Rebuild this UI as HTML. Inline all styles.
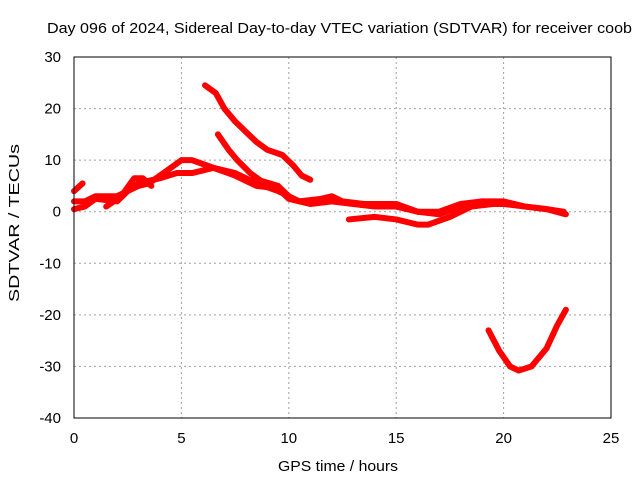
<!DOCTYPE html>
<html><head><meta charset="utf-8"><style>
body{margin:0;background:#fff}
svg text{font-family:"Liberation Sans",sans-serif;font-size:15px;fill:#000}
</style></head><body>
<svg id="chart" width="640" height="480">
<text x="47" y="33" textLength="585" lengthAdjust="spacingAndGlyphs">Day 096 of 2024, Sidereal Day-to-day VTEC variation (SDTVAR) for receiver coob</text>
<text x="278" y="471" textLength="120" lengthAdjust="spacingAndGlyphs">GPS time / hours</text>
<text transform="translate(19,302) rotate(-90)" textLength="158" lengthAdjust="spacingAndGlyphs">SDTVAR / TECUs</text>
<g id="grid"></g><g id="ticks"></g><g id="series"></g>
<rect x="74" y="57" width="537" height="361" fill="none" stroke="#000" stroke-width="1"/>
</svg>
<script>
const xTicks=[0,5,10,15,20,25];
const yTicks=[30,20,10,0,-10,-20,-30,-40];
const trackA=[[6.1,24.5],[6.6,23],[7,20],[7.5,17.5],[8,15.5],[8.5,13.5],[9,12],[9.7,11],[10.2,9],[10.6,7],[11,6.2]];
const trackB=[[6.7,15],[7.2,12],[7.6,10],[8.2,7.5],[8.7,6],[9.5,5],[10,3]];
const trackC=[[0,2],[0.5,2],[1,3],[2,3],[2.5,4],[3,5.5],[4,6.5],[4.8,7.5],[5.5,7.5],[6.5,8.5],[7.5,7],[8.5,5],[9.5,4.5],[10,2.5],[11,1.5],[12,2],[13,1.5],[14,1],[15,1],[16,0],[17,0],[18,1.5],[19,2],[20,2],[21,1],[22,0.5],[22.9,-0.5]];
const trackD=[[0,0.5],[0.5,1],[1,2.5],[2,2],[2.5,4],[3,5],[3.5,5.5],[4,7],[4.5,8.5],[5,10],[5.5,10],[6.5,8.5],[7.5,7.5],[8.5,5.5],[9.5,4],[10.5,2],[11.5,2.5],[12,3],[12.5,2],[13.5,1.5],[15,1.5],[16,0],[17,-0.5],[18,1],[19,2],[20,1.5],[21,1],[22,0.5],[22.8,0]];
const trackE=[[12.8,-1.5],[14,-1],[15,-1.5],[16,-2.5],[16.5,-2.5],[17.5,-1],[18.5,1],[19.5,1.5],[20.5,1.5]];
const trackF=[[19.3,-23],[19.8,-27],[20.3,-30],[20.7,-30.8],[21.3,-30],[22,-26.5],[22.5,-22],[22.9,-19]];
const trackG=[[1.5,1],[2.2,3],[2.8,6.5],[3.2,6.5],[3.6,5]];
const trackH=[[0,4],[0.4,5.5]];
const tracks=[trackA,trackB,trackC,trackD,trackE,trackF,trackG,trackH];
const X=v=>74+v*537/25, Y=v=>57+(30-v)*361/70;
const NS='http://www.w3.org/2000/svg';
const grid=document.getElementById('grid'),ticks=document.getElementById('ticks'),ser=document.getElementById('series');
function mk(tag,attrs,parent){const e=document.createElementNS(NS,tag);for(const k in attrs)e.setAttribute(k,attrs[k]);parent.appendChild(e);return e;}
xTicks.forEach(t=>{
  if(t>0&&t<25){const g=mk('line',{x1:X(t),x2:X(t),y1:57,y2:418,stroke:'#a0a0a0','stroke-dasharray':'2,3'},grid);
  
  }
  const l=mk('text',{x:X(t),y:443,'text-anchor':'middle'},ticks);l.textContent=t;
  
  
});
yTicks.forEach(t=>{
  if(t<30&&t>-40){const g=mk('line',{x1:74,x2:611,y1:Y(t),y2:Y(t),stroke:'#a0a0a0','stroke-dasharray':'2,3'},grid);
  
  }
  const l=mk('text',{x:61,y:Y(t)+5,'text-anchor':'end'},ticks);l.textContent=t;
  
  
});
tracks.forEach(tr=>{
  const p=mk('polyline',{points:tr.map(d=>X(d[0])+','+Y(d[1])).join(' '),fill:'none',stroke:'#ff0000','stroke-width':6,'stroke-linejoin':'round','stroke-linecap':'round'},ser);
  
  
});
</script>
</body></html>
